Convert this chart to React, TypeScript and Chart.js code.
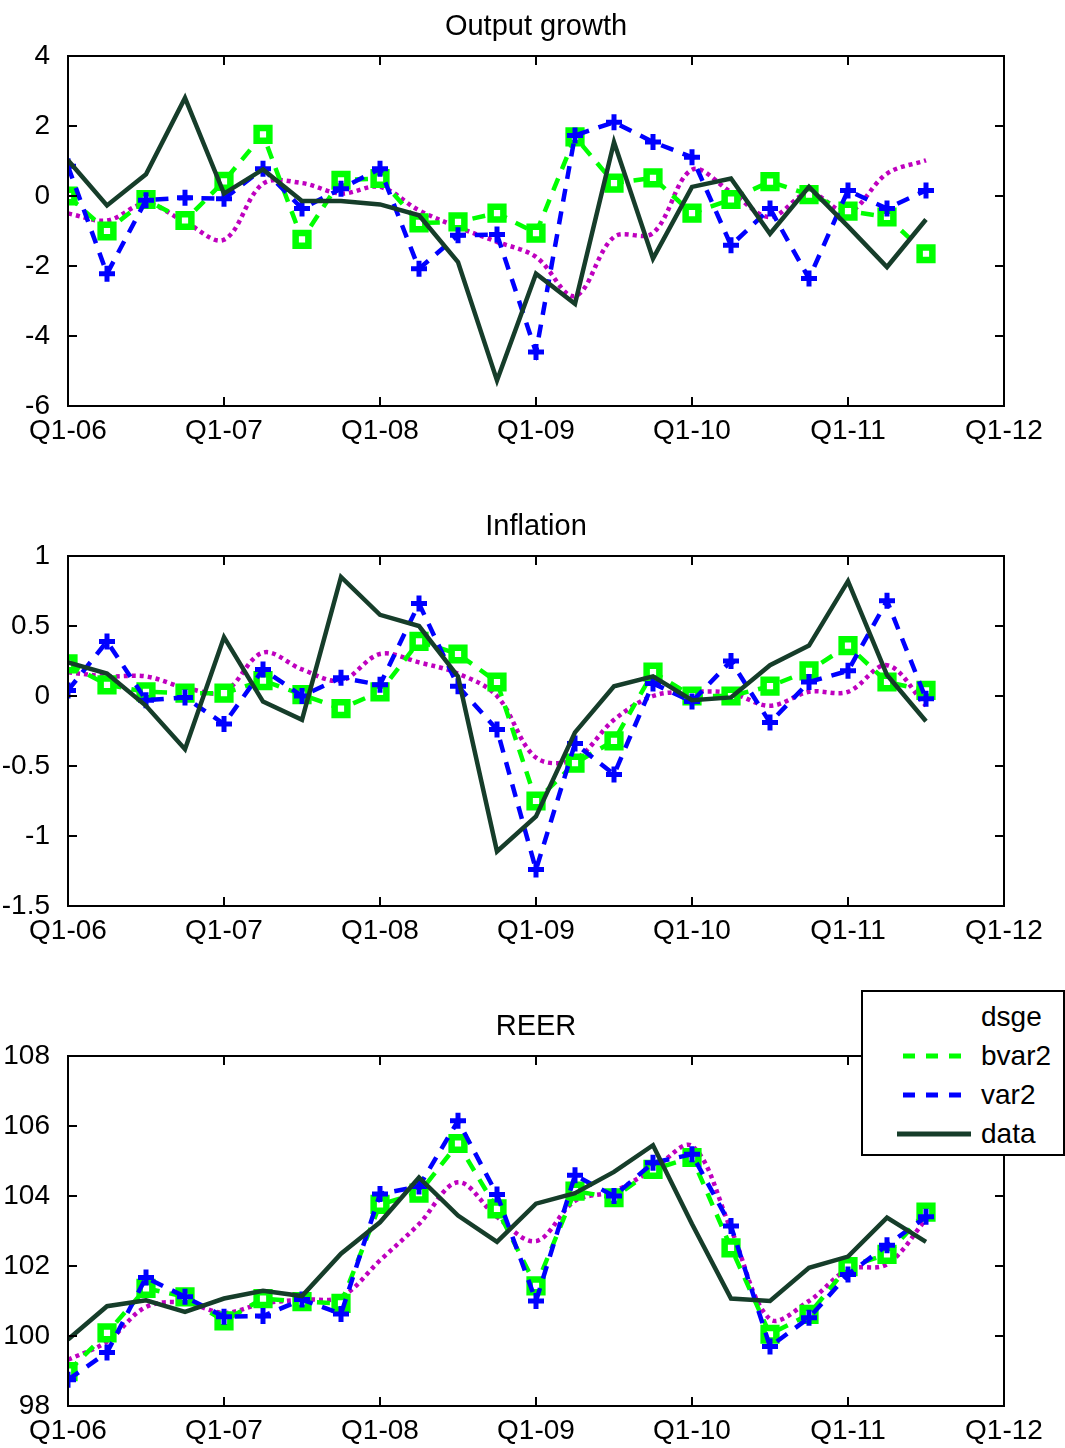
import React, { useEffect, useRef } from "react";
import { Chart, registerables } from "chart.js";

Chart.register(...registerables);

const FONT = '"Liberation Sans", Arial, Helvetica, sans-serif';

// x-axis tick labels (every 4 quarters, Q1-06 .. Q1-12)
const xTickLabels = ["Q1-06", "Q1-07", "Q1-08", "Q1-09", "Q1-10", "Q1-11", "Q1-12"];

// ---- Output growth ----
const outputDsge = [-0.5, -0.7, -0.22, -0.74, -1.25, 0.35, 0.37, 0.07, 0.26, -0.41, -0.89, -1.31, -1.74, -2.86, -1.17, -1.06, 0.75, 0.11, -0.6, 0.09, -0.46, 0.64, 1.02];
const outputBvar2 = [0, -1.0, -0.1, -0.7, 0.42, 1.76, -1.24, 0.45, 0.5, -0.77, -0.74, -0.49, -1.06, 1.69, 0.37, 0.52, -0.49, -0.1, 0.41, 0.04, -0.43, -0.6, -1.65];
const outputVar2 = [0.85, -2.22, -0.12, -0.05, -0.08, 0.78, -0.36, 0.21, 0.78, -2.08, -1.12, -1.1, -4.46, 1.73, 2.11, 1.54, 1.11, -1.41, -0.36, -2.36, 0.16, -0.36, 0.16];
const outputData = [1.02, -0.27, 0.62, 2.8, 0.07, 0.76, -0.14, -0.14, -0.24, -0.55, -1.89, -5.27, -2.22, -3.08, 1.54, -1.79, 0.26, 0.5, -1.08, 0.26, -0.87, -2.03, -0.67];

// ---- Inflation ----
const inflDsge = [0.17, 0.14, 0.14, 0.06, 0.03, 0.31, 0.19, 0.11, 0.3, 0.24, 0.16, 0.0, -0.44, -0.45, -0.17, 0.0, 0.03, 0.02, -0.07, 0.03, 0.03, 0.22, -0.07];
const inflBvar2 = [0.23, 0.08, 0.03, 0.02, 0.02, 0.11, 0.01, -0.09, 0.03, 0.39, 0.3, 0.1, -0.75, -0.48, -0.32, 0.17, 0.0, 0.0, 0.07, 0.18, 0.36, 0.1, 0.04];
const inflVar2 = [0.04, 0.39, -0.03, -0.01, -0.2, 0.19, 0.0, 0.13, 0.08, 0.66, 0.07, -0.24, -1.24, -0.34, -0.56, 0.09, -0.04, 0.25, -0.19, 0.1, 0.18, 0.68, -0.02];
const inflData = [0.24, 0.16, -0.07, -0.38, 0.42, -0.04, -0.17, 0.85, 0.58, 0.5, 0.14, -1.11, -0.86, -0.26, 0.07, 0.14, -0.03, -0.01, 0.22, 0.36, 0.82, 0.15, -0.18];

// ---- REER ----
const reerDsge = [99.32, 99.84, 100.83, 100.95, 100.66, 100.93, 101.04, 101.12, 102.16, 103.2, 104.39, 103.4, 102.71, 103.86, 104.14, 104.76, 105.43, 103.05, 100.48, 101.0, 101.9, 102.05, 103.33];
const reerBvar2 = [98.98, 100.09, 101.36, 101.12, 100.43, 101.07, 100.98, 100.93, 103.76, 104.08, 105.5, 103.63, 101.43, 104.14, 103.95, 104.76, 105.1, 102.52, 100.05, 100.62, 101.98, 102.33, 103.54];
const reerVar2 = [98.75, 99.53, 101.67, 101.12, 100.55, 100.57, 101.04, 100.63, 104.06, 104.27, 106.15, 104.04, 101.0, 104.59, 104.0, 104.95, 105.19, 103.14, 99.7, 100.52, 101.76, 102.59, 103.41];
const reerData = [99.9, 100.85, 101.02, 100.69, 101.07, 101.29, 101.14, 102.35, 103.25, 104.53, 103.44, 102.69, 103.78, 104.08, 104.69, 105.45, 103.2, 101.07, 101.0, 101.95, 102.27, 103.38, 102.69];

const COLORS = {
  dsge: "#bf00bf",
  bvar2: "#00ff00",
  var2: "#0000ff",
  data: "#163d2a",
};

const toPoints = (arr: number[]) => arr.map((y, i) => ({ x: i, y }));

const framePlugin = {
  id: "matlabFrame",
  afterDraw(chart: any, _args: any, opts: any) {
    const { ctx, chartArea: a, scales } = chart;
    const tl = 9;
    ctx.save();
    // title centred over the plot area
    if (opts && opts.title) {
      ctx.fillStyle = "#000";
      ctx.font = `29px ${FONT}`;
      ctx.textAlign = "center";
      ctx.textBaseline = "middle";
      ctx.fillText(opts.title, (a.left + a.right) / 2, 27);
    }
    ctx.strokeStyle = "#000";
    ctx.lineWidth = 2;
    ctx.setLineDash([]);
    ctx.beginPath();
    scales.x.ticks.forEach((t: any) => {
      const px = Math.round(scales.x.getPixelForValue(t.value));
      ctx.moveTo(px, a.bottom);
      ctx.lineTo(px, a.bottom - tl);
      ctx.moveTo(px, a.top);
      ctx.lineTo(px, a.top + tl);
    });
    scales.y.ticks.forEach((t: any) => {
      const py = Math.round(scales.y.getPixelForValue(t.value));
      ctx.moveTo(a.left, py);
      ctx.lineTo(a.left + tl, py);
      ctx.moveTo(a.right, py);
      ctx.lineTo(a.right - tl, py);
    });
    ctx.stroke();
    ctx.strokeRect(a.left, a.top, a.right - a.left, a.bottom - a.top);
    ctx.restore();
  },
};

type PanelProps = {
  title: string;
  top: number;
  yMin: number;
  yMax: number;
  yStep: number;
  dsge: number[];
  bvar2: number[];
  var2: number[];
  data: number[];
};

function Panel({ title, top, yMin, yMax, yStep, dsge, bvar2, var2, data }: PanelProps) {
  const ref = useRef<HTMLCanvasElement | null>(null);
  useEffect(() => {
    if (!ref.current) return;
    const chart = new Chart(ref.current, {
      type: "line",
      data: {
        datasets: [
          {
            label: "data",
            data: toPoints(data),
            borderColor: COLORS.data,
            borderWidth: 4.5,
            pointRadius: 0,
            tension: 0,
            borderJoinStyle: "miter",
          },
          {
            label: "var2",
            data: toPoints(var2),
            borderColor: COLORS.var2,
            borderWidth: 4.5,
            borderDash: [13, 10],
            pointStyle: "cross",
            pointRadius: 8,
            pointBorderWidth: 5,
            pointBorderColor: COLORS.var2,
            pointBackgroundColor: COLORS.var2,
            tension: 0,
          },
          {
            label: "bvar2",
            data: toPoints(bvar2),
            borderColor: COLORS.bvar2,
            borderWidth: 4.5,
            borderDash: [13, 10],
            pointStyle: "rect",
            pointRadius: 9,
            pointBorderWidth: 6.5,
            pointBorderColor: COLORS.bvar2,
            pointBackgroundColor: "#ffffff",
            tension: 0,
          },
          {
            label: "dsge",
            data: toPoints(dsge),
            borderColor: COLORS.dsge,
            borderWidth: 4.5,
            borderDash: [4, 4],
            pointRadius: 0,
            tension: 0.35,
          },
        ],
      },
      options: {
        responsive: false,
        animation: false,
        devicePixelRatio: 1,
        events: [],
        layout: { padding: { left: 0, right: 61, top: 56, bottom: 0 } },
        plugins: {
          legend: { display: false },
          tooltip: { enabled: false },
          title: { display: false },
          matlabFrame: { title },
        },
        scales: {
          x: {
            type: "linear",
            min: 0,
            max: (xTickLabels.length - 1) * 4,
            ticks: {
              stepSize: 4,
              color: "#000",
              font: { size: 28, family: FONT },
              padding: 0,
              maxRotation: 0,
              autoSkip: false,
              callback: (v: any) => xTickLabels[Math.round(Number(v) / 4)],
            },
            grid: { display: false },
            border: { display: false },
            afterFit: (s: any) => {
              s.height = 44;
            },
          },
          y: {
            type: "linear",
            min: yMin,
            max: yMax,
            ticks: {
              stepSize: yStep,
              color: "#000",
              font: { size: 28, family: FONT },
              padding: 10,
              callback: (v: any) => String(Math.round(Number(v) * 100) / 100),
            },
            grid: { display: false },
            border: { display: false },
            afterFit: (s: any) => {
              s.width = 68;
            },
          },
        },
      } as any,
      plugins: [framePlugin],
    });
    return () => chart.destroy();
  }, []);
  return (
    <canvas
      ref={ref}
      width={1065}
      height={450}
      style={{ position: "absolute", left: 0, top, width: 1065, height: 450 }}
    />
  );
}

function Legend() {
  const rows = [
    { label: "dsge", color: COLORS.dsge, dash: "", show: false, width: 4 },
    { label: "bvar2", color: COLORS.bvar2, dash: "12 11", show: true, width: 5 },
    { label: "var2", color: COLORS.var2, dash: "12 11", show: true, width: 5 },
    { label: "data", color: COLORS.data, dash: "", show: true, width: 5 },
  ];
  return (
    <div
      style={{
        position: "absolute",
        left: 861,
        top: 990,
        width: 204,
        height: 166,
        boxSizing: "border-box",
        border: "2px solid #000",
        background: "#fff",
        zIndex: 5,
      }}
    >
      {rows.map((r, i) => (
        <div
          key={r.label}
          style={{ position: "absolute", left: 0, top: 6 + i * 39, width: 200, height: 38 }}
        >
          {r.show && (
            <svg
              width={80}
              height={38}
              style={{ position: "absolute", left: 32, top: 0 }}
            >
              <line
                x1={r.dash ? 8 : 2}
                y1={19}
                x2={r.dash ? 67 : 76}
                y2={19}
                stroke={r.color}
                strokeWidth={r.width}
                strokeDasharray={r.dash || undefined}
              />
            </svg>
          )}
          <span
            style={{
              position: "absolute",
              left: 118,
              top: 0,
              lineHeight: "38px",
              fontSize: 28,
              fontFamily: FONT,
              color: "#000",
            }}
          >
            {r.label}
          </span>
        </div>
      ))}
    </div>
  );
}

export default function App() {
  return (
    <div
      style={{
        position: "absolute",
        left: 0,
        top: 0,
        width: 1065,
        height: 1448,
        overflow: "hidden",
        background: "#fff",
      }}
    >
      <Panel title="Output growth" top={0} yMin={-6} yMax={4} yStep={2} dsge={outputDsge} bvar2={outputBvar2} var2={outputVar2} data={outputData} />
      <Panel title="Inflation" top={500} yMin={-1.5} yMax={1} yStep={0.5} dsge={inflDsge} bvar2={inflBvar2} var2={inflVar2} data={inflData} />
      <Panel title="REER" top={1000} yMin={98} yMax={108} yStep={2} dsge={reerDsge} bvar2={reerBvar2} var2={reerVar2} data={reerData} />
      <Legend />
    </div>
  );
}
